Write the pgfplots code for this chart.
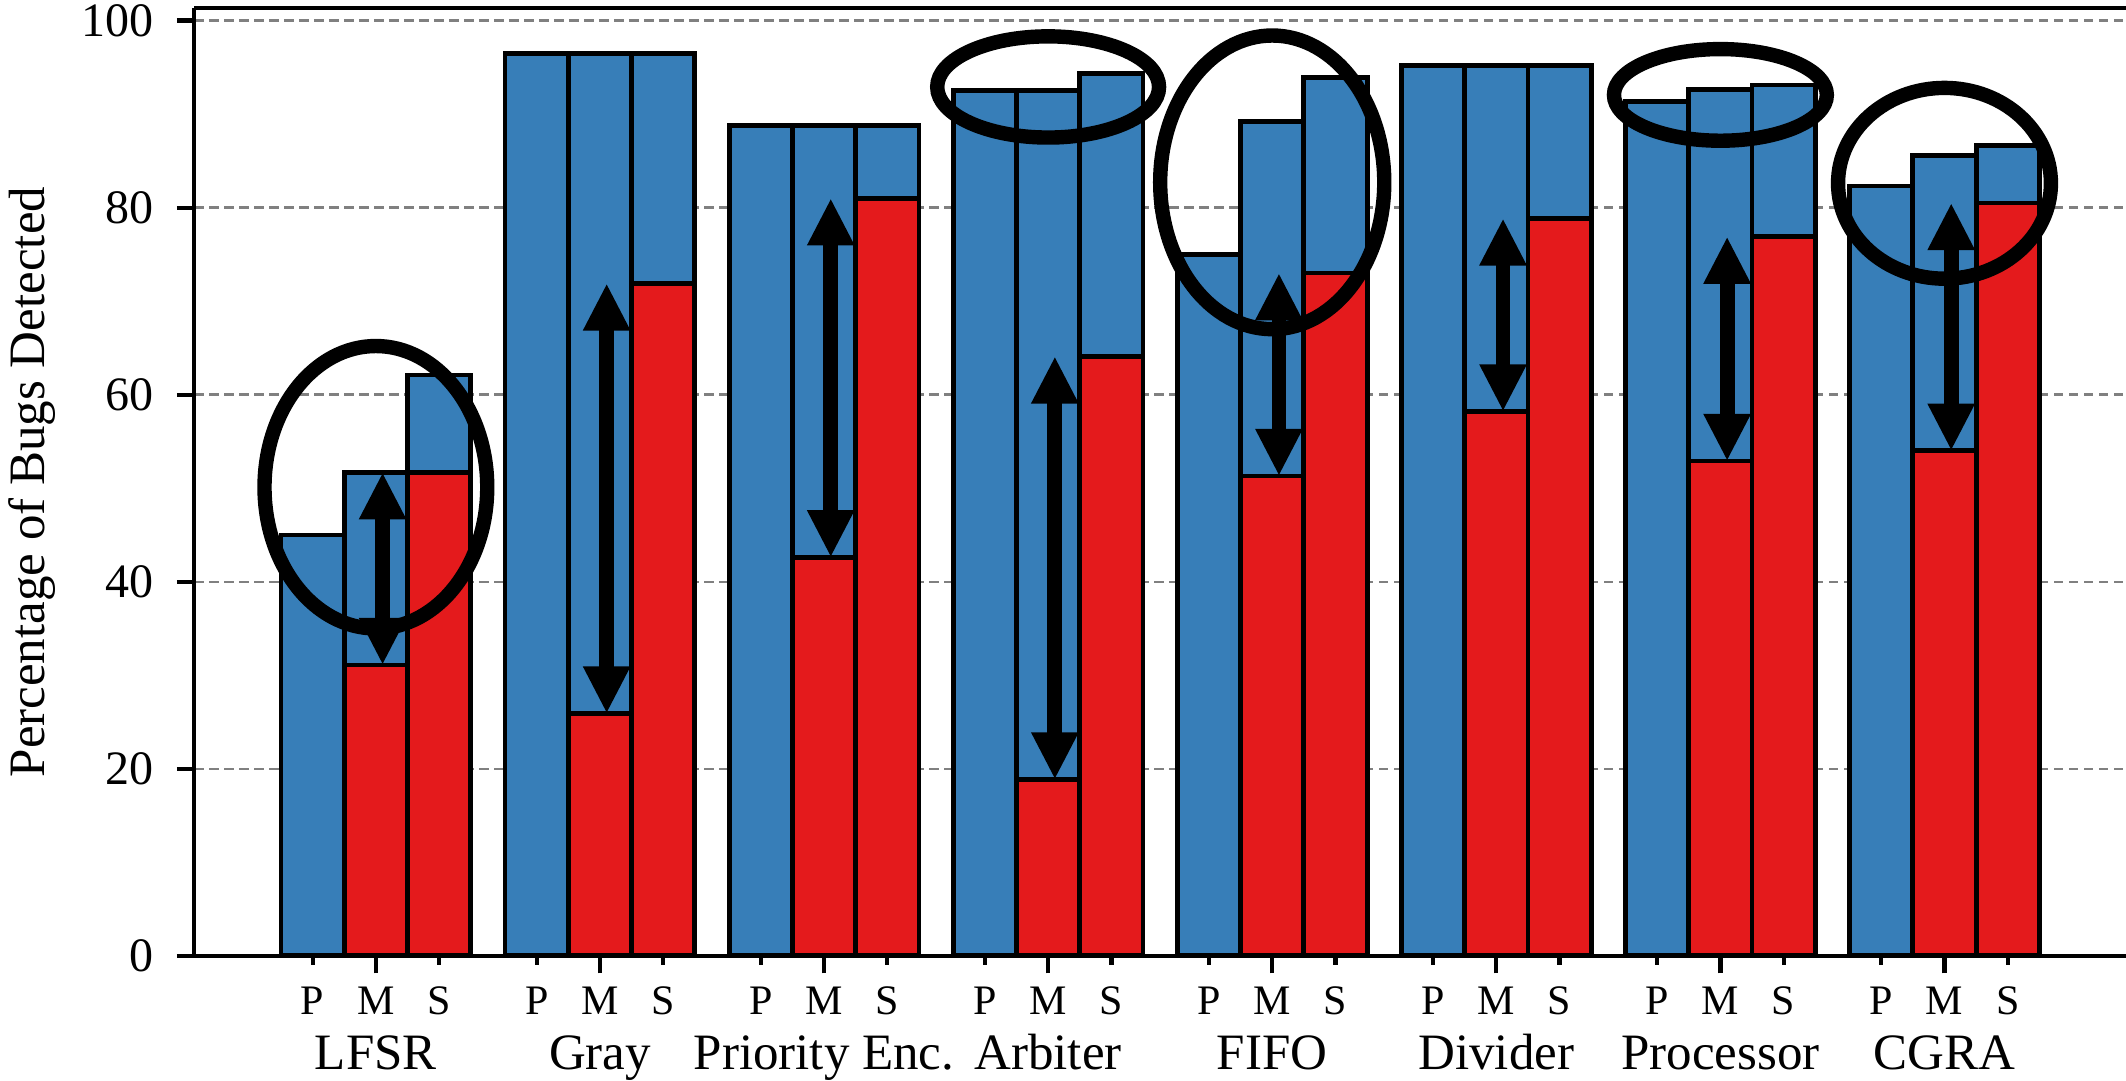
\documentclass[border=0pt]{standalone}
\usepackage{fontspec}
\setmainfont{Liberation Serif}
\usepackage{pgfplots}
\usepackage{pgfplotstable}
\pgfplotsset{compat=1.18}
\usetikzlibrary{arrows.meta}
\definecolor{sblue}{RGB}{55,126,184}
\definecolor{sred}{RGB}{228,26,28}
\definecolor{grd}{RGB}{128,128,128}

\pgfplotstableread{
g P M S Mr Sr
0 45.0 51.7 62.1 31.1 51.7
1 96.5 96.5 96.5 25.9 71.9
2 88.8 88.8 88.8 42.6 81.0
3 92.5 92.5 94.3 18.85 64.1
4 75.0 89.2 93.9 51.3 73.0
5 95.2 95.2 95.2 58.2 78.85
6 91.35 92.6 93.1 52.9 76.9
7 82.3 85.6 86.6 54.0 80.5
}\data

\begin{document}
\begin{tikzpicture}
\begin{axis}[
  width=483pt, height=236.9pt, scale only axis,
  xmin=-0.81, xmax=7.81, ymin=0, ymax=101.3,
  axis x line*=box, axis y line*=left,
  every outer x axis line/.append style={-},
  every outer y axis line/.append style={-},
  axis line style={line width=1.05pt, black, -},
  ybar, bar width=0.2823,
  ytick={0,20,40,60,80,100},
  ymajorgrids,
  major grid style={grd, line width=0.6pt, dash pattern=on 2.33pt off 1.42pt},
  tick align=outside, ytick pos=left, xtick pos=bottom,
  major tick length=4.4pt,
  tick style={line width=1.05pt, black},
  xtick={0,1,2,3,4,5,6,7},
  xticklabels={
    {{\fontsize{10.5}{13.75}\selectfont M}\\LFSR},
    {{\fontsize{10.5}{13.75}\selectfont M}\\Gray},
    {{\fontsize{10.5}{13.75}\selectfont M}\\Priority Enc.},
    {{\fontsize{10.5}{13.75}\selectfont M}\\Arbiter},
    {{\fontsize{10.5}{13.75}\selectfont M}\\FIFO},
    {{\fontsize{10.5}{13.75}\selectfont M}\\Divider},
    {{\fontsize{10.5}{13.75}\selectfont M}\\Processor},
    {{\fontsize{10.5}{13.75}\selectfont M}\\CGRA}},
  xticklabel style={font=\fontsize{12.75}{13.75}\selectfont, align=center, anchor=north, inner sep=0pt, yshift=-3.1pt},
  extra x ticks={-0.2823,0.2823,0.7177,1.2823,1.7177,2.2823,2.7177,3.2823,3.7177,4.2823,4.7177,5.2823,5.7177,6.2823,6.7177,7.2823},
  extra x tick labels={P,S,P,S,P,S,P,S,P,S,P,S,P,S,P,S},
  extra x tick style={major tick length=2.25pt, xticklabel style={font=\fontsize{10.5}{13}\selectfont, yshift=-2.15pt}},
  yticklabel style={font=\fontsize{12}{14}\selectfont, anchor=east, inner sep=0pt, xshift=-5.6pt},
  /pgf/number format/assume math mode=true,
  ylabel={Percentage of Bugs Detected},
  ylabel style={font=\fontsize{12.75}{15}\selectfont, at={(axis description cs:-0.0777,0.5)}, anchor=base},
]
\addplot[fill=sblue, draw=black, line width=1.2pt, bar shift=0pt] table[x expr=\thisrow{g}-0.2823, y=P]{\data};
\addplot[fill=sblue, draw=black, line width=1.2pt, bar shift=0pt] table[x=g, y=M]{\data};
\addplot[fill=sblue, draw=black, line width=1.2pt, bar shift=0pt] table[x expr=\thisrow{g}+0.2823, y=S]{\data};
\addplot[fill=sred, draw=black, line width=1.2pt, bar shift=0pt] table[x=g, y=Mr]{\data};
\addplot[fill=sred, draw=black, line width=1.2pt, bar shift=0pt] table[x expr=\thisrow{g}+0.2823, y=Sr]{\data};

\tikzset{dbl/.style={line width=3.7pt, {Triangle[length=11.8pt,width=11pt]}-{Triangle[length=11.8pt,width=11pt]}}}
\draw[dbl] (axis cs:0.03,31.1) -- (axis cs:0.03,51.7);
\draw[dbl] (axis cs:1.03,25.9) -- (axis cs:1.03,71.9);
\draw[dbl] (axis cs:2.03,42.6) -- (axis cs:2.03,81.0);
\draw[dbl] (axis cs:3.03,18.85) -- (axis cs:3.03,64.1);
\draw[dbl] (axis cs:4.03,51.3) -- (axis cs:4.03,73.0);
\draw[dbl] (axis cs:5.03,58.2) -- (axis cs:5.03,78.85);
\draw[dbl] (axis cs:6.03,52.9) -- (axis cs:6.03,76.9);
\draw[dbl] (axis cs:7.03,54.0) -- (axis cs:7.03,80.5);

\draw[line width=3.6pt] (axis cs:0,50.1) ellipse [x radius=0.497, y radius=15.1];
\draw[line width=3.6pt] (axis cs:3,92.9) ellipse [x radius=0.495, y radius=5.41];
\draw[line width=3.6pt] (axis cs:4,82.7) ellipse [x radius=0.5, y radius=15.7];
\draw[line width=3.6pt] (axis cs:6,92.05) ellipse [x radius=0.475, y radius=4.9];
\draw[line width=3.6pt] (axis cs:7,82.6) ellipse [x radius=0.475, y radius=10.2];
\end{axis}
\pgfresetboundingbox
\path[use as bounding box] (-48.6pt,-31.25pt) rectangle (483pt,239pt);
\end{tikzpicture}
\end{document}
